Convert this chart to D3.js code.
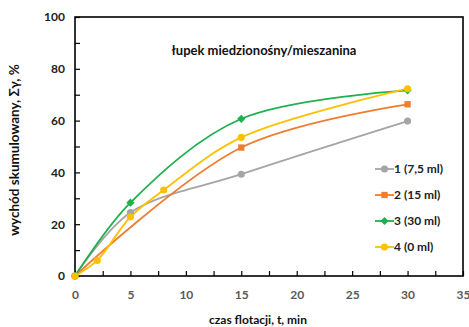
<!DOCTYPE html>
<html>
<head>
<meta charset="utf-8">
<script src="https://cdn.jsdelivr.net/npm/d3@7"></script>
<style>
  body { margin: 0; background: #fff; }
  text { font-family: Lato, "Liberation Sans", sans-serif; font-weight: bold; }
</style>
</head>
<body>
<svg id="chart" width="469" height="327"></svg>
<script>
// data
const seriesNames = ["1 (7,5 ml)", "2 (15 ml)", "3 (30 ml)", "4 (0 ml)"];
const seriesColors = ["#a5a5a5", "#ed7d31", "#1db04e", "#ffc000"];
const seriesShapes = ["circle", "square", "diamond", "circle"];
const s1 = [[0, 0], [5, 24.5], [15, 39.3], [30, 59.8]];
const s2 = [[0, 0], [15, 49.6], [30, 66.3]];
const s3 = [[0, 0], [5, 28.3], [15, 60.7], [30, 71.7]];
const s4 = [[0, 0], [2, 6], [5, 22.8], [8, 33.2], [15, 53.5], [30, 72.3]];
const xTicks = [0, 5, 10, 15, 20, 25, 30, 35];
const yTicks = [0, 20, 40, 60, 80, 100];

const allSeries = [s1, s2, s3, s4];

const margin = {top: 17, right: 6, bottom: 51, left: 75};
const width = 469, height = 327;

const svg = d3.select("#chart");

const x = d3.scaleLinear().domain([0, 35]).range([margin.left, width - margin.right]);
const y = d3.scaleLinear().domain([0, 100]).range([height - margin.bottom, margin.top]);

// minor ticks inside the plot
svg.append("g")
    .attr("transform", `translate(0,${y(0)})`)
    .call(d3.axisTop(x).tickValues(d3.range(0, 35.1, 2.5)).tickSize(5).tickFormat(""))
    .call(g => g.select(".domain").remove())
    .selectAll("line").attr("stroke", "#000").attr("stroke-width", 1.2);

svg.append("g")
    .attr("transform", `translate(${x(0)},0)`)
    .call(d3.axisRight(y).tickValues(d3.range(0, 100.1, 10)).tickSize(5).tickFormat(""))
    .call(g => g.select(".domain").remove())
    .selectAll("line").attr("stroke", "#000").attr("stroke-width", 1.2);

// plot border
svg.append("rect")
    .attr("x", x(0)).attr("y", y(100))
    .attr("width", x(35) - x(0)).attr("height", y(0) - y(100))
    .attr("fill", "none").attr("stroke", "#000").attr("stroke-width", 1.6);

// tick labels
svg.append("g")
    .attr("transform", `translate(0,${y(0)})`)
    .call(d3.axisBottom(x).tickValues(xTicks).tickSize(0).tickPadding(14))
    .call(g => g.select(".domain").remove())
    .selectAll("text")
    .attr("fill", "#595959").style("font-size", "12px");

svg.append("g")
    .attr("transform", `translate(${x(0)},0)`)
    .call(d3.axisLeft(y).tickValues(yTicks).tickSize(0).tickPadding(10))
    .call(g => g.select(".domain").remove())
    .selectAll("text")
    .attr("fill", "#222").style("font-size", "12px");

// curves
const line = d3.line()
    .x(d => x(d[0]))
    .y(d => y(d[1]))
    .curve(d3.curveCatmullRom.alpha(0.5));

allSeries.forEach((data, i) => {
    svg.append("path")
        .datum(data)
        .attr("d", line)
        .attr("fill", "none")
        .attr("stroke", seriesColors[i])
        .attr("stroke-width", 1.8);
});

function marker(sel, shape, color) {
    const type = shape === "square" ? d3.symbolSquare : d3.symbolCircle;
    const p = sel.append("path").attr("fill", color);
    if (shape === "diamond") {
        // square turned 45 degrees, like the spreadsheet diamond
        p.attr("d", d3.symbol().type(d3.symbolSquare).size(34)()).attr("data-rot", 45);
    } else {
        p.attr("d", d3.symbol().type(type).size(40)());
    }
    return p;
}
function place(p, px, py) {
    const rot = p.attr("data-rot") || 0;
    p.attr("transform", `translate(${px},${py}) rotate(${rot})`);
}

allSeries.forEach((data, i) => {
    data.forEach(d => {
        place(marker(svg, seriesShapes[i], seriesColors[i]), x(d[0]), y(d[1]));
    });
});

// title
svg.append("text")
    .attr("x", 264).attr("y", 55)
    .attr("text-anchor", "middle")
    .style("font-size", "13px")
    .attr("fill", "#111")
    .text("łupek miedzionośny/mieszanina");

// legend
const legend = svg.append("g").attr("transform", "translate(375,169)");
seriesNames.forEach((name, i) => {
    const row = legend.append("g").attr("transform", `translate(0,${i * 26})`);
    row.append("line")
        .attr("x1", 0).attr("x2", 19)
        .attr("stroke", seriesColors[i]).attr("stroke-width", 1.8);
    place(marker(row, seriesShapes[i], seriesColors[i]), 9.5, 0);
    row.append("text")
        .attr("x", 19).attr("y", 4)
        .style("font-size", "12px")
        .attr("fill", "#222")
        .text(name);
});

// axis titles
svg.append("text")
    .attr("x", 258).attr("y", 324)
    .attr("text-anchor", "middle")
    .style("font-size", "12px")
    .attr("fill", "#111")
    .text("czas flotacji, t, min");

svg.append("text")
    .attr("transform", "translate(19,150) rotate(-90)")
    .attr("text-anchor", "middle")
    .style("font-size", "13.5px")
    .attr("fill", "#111")
    .text("wychód skumulowany, Σγ,  %");
</script>
</body>
</html>
